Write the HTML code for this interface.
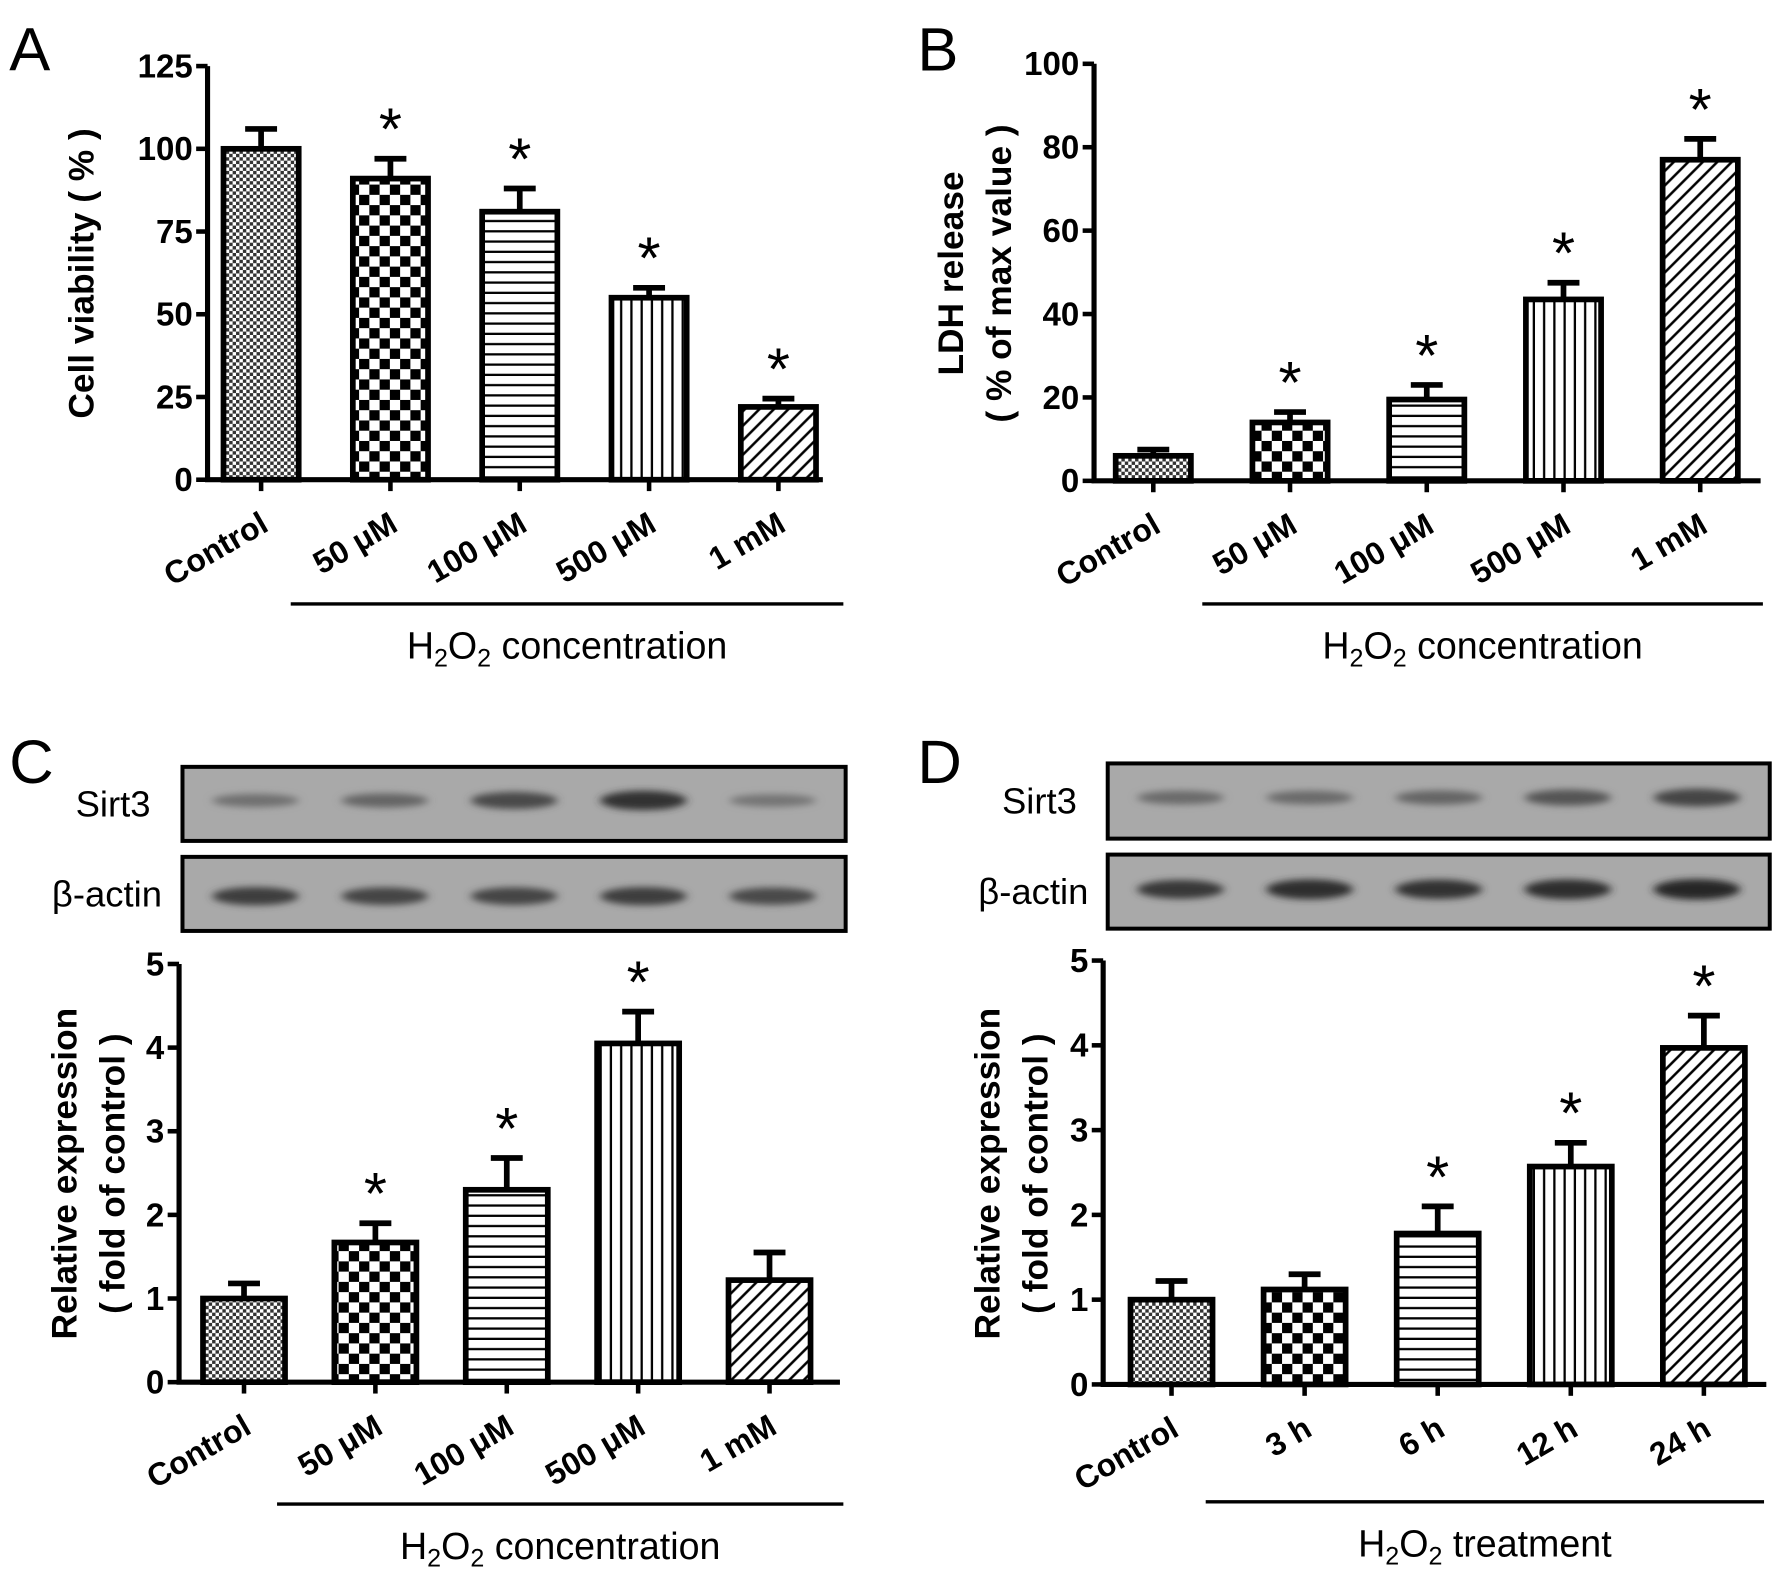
<!DOCTYPE html>
<html><head><meta charset="utf-8"><style>
html,body{margin:0;padding:0;background:#fff;}
svg{display:block;}
text{font-family:"Liberation Sans",Arial,sans-serif;}
</style></head><body>
<svg id="fig" width="1787" height="1577" viewBox="0 0 1568 1384" xmlns="http://www.w3.org/2000/svg">
<defs>
<pattern id="pFine" width="6" height="6" patternUnits="userSpaceOnUse"><rect width="6" height="6" fill="#fff"/><rect width="3" height="3" fill="#333"/><rect x="3" y="3" width="3" height="3" fill="#333"/></pattern>
<pattern id="pChk" width="18" height="18" patternUnits="userSpaceOnUse"><rect width="18" height="18" fill="#fff"/><rect width="9" height="9" fill="#000"/><rect x="9" y="9" width="9" height="9" fill="#000"/></pattern>
<pattern id="pHor" width="10" height="9" patternUnits="userSpaceOnUse"><rect width="10" height="9" fill="#fff"/><rect y="4" width="10" height="2" fill="#000"/></pattern>
<pattern id="pVer" width="9" height="10" patternUnits="userSpaceOnUse"><rect width="9" height="10" fill="#fff"/><rect x="4" width="2" height="10" fill="#000"/></pattern>
<pattern id="pDiag" width="9" height="9" patternUnits="userSpaceOnUse" patternTransform="rotate(45)"><rect width="9" height="9" fill="#fff"/><rect x="4" width="2.2" height="9" fill="#000"/></pattern>
<filter id="blur" x="-30%" y="-100%" width="160%" height="300%"><feGaussianBlur stdDeviation="4 3"/></filter>
</defs>
<g id="root"></g>
</svg>
<script>
// Panel A data
const catsConc = ["Control","50 μM","100 μM","500 μM","1 mM"];
const catsTime = ["Control","3 h","6 h","12 h","24 h"];
const aVals = [100, 91, 81, 55, 22];
const aErr = [106, 97, 88, 58, 24.5];
const aStar = [false, true, true, true, true];
const aTicks = ["0","25","50","75","100","125"];
// Panel B data
const bVals = [6, 14, 19.5, 43.5, 77];
const bErr = [7.5, 16.5, 23, 47.5, 82];
const bStar = [false, true, true, true, true];
const bTicks = ["0","20","40","60","80","100"];
// Panel C data
const cVals = [1.0, 1.67, 2.3, 4.05, 1.22];
const cErr = [1.18, 1.9, 2.68, 4.43, 1.55];
const cStar = [false, true, true, true, false];
const cTicks = ["0","1","2","3","4","5"];
const cSirt3 = [0.35, 0.45, 0.7, 0.9, 0.3];
const cActin = [0.8, 0.75, 0.75, 0.8, 0.7];
// Panel D data
const dVals = [1.0, 1.12, 1.78, 2.57, 3.97];
const dErr = [1.22, 1.3, 2.1, 2.85, 4.35];
const dStar = [false, false, true, true, true];
const dTicks = ["0","1","2","3","4","5"];
const dSirt3 = [0.4, 0.4, 0.45, 0.6, 0.75];
const dActin = [0.85, 0.95, 0.9, 0.95, 1.0];

const fills = ["url(#pFine)","url(#pChk)","url(#pHor)","url(#pVer)","url(#pDiag)"];
const NS = "http://www.w3.org/2000/svg";
const root = document.getElementById("root");
function mk(tag, attrs, parent, txt){
  const e = document.createElementNS(NS, tag);
  for (const k in attrs) e.setAttribute(k, attrs[k]);
  if (txt !== undefined) e.textContent = txt;
  (parent||root).appendChild(e);
  return e;
}

function chart(cfg){
  const g = mk("g", {});
  
  
  const yMax = parseFloat(cfg.ticks[cfg.ticks.length-1]);
  const Y = v => cfg.y0 - (v / yMax) * (cfg.y0 - cfg.yTop);
  const X = i => cfg.x0 + cfg.first + i * cfg.step;
  cfg.vals.forEach((v, i) => {
    const r = mk("rect", {x: X(i) - cfg.bw/2, y: Y(v), width: cfg.bw, height: cfg.y0 - Y(v), fill: fills[i], stroke: "#000", "stroke-width": 5}, g);
    
    
    const eb = mk("path", {d: `M${X(i)} ${Y(v)} V${Y(cfg.err[i])} M${X(i)-14} ${Y(cfg.err[i])} H${X(i)+14}`, stroke: "#000", "stroke-width": 5, fill: "none"}, g);
    
    
    if (cfg.star[i]) {
      const s = mk("text", {x: X(i), y: Y(cfg.err[i]) - 8, "text-anchor": "middle", "font-size": 52}, g, "*");
      
      
    }
    const tk = mk("line", {x1: X(i), x2: X(i), y1: cfg.y0, y2: cfg.y0 + 10, stroke: "#000", "stroke-width": 4}, g);
    
    
    const lx = X(i) + 8, ly = cfg.y0 + 44;
    const lb = mk("text", {x: lx, y: ly, "text-anchor": "end", "font-size": 28, "font-weight": "bold", transform: `rotate(-30 ${lx} ${ly})`}, g, cfg.cats[i]);
    
    
  });
  const ax = mk("path", {d: `M${cfg.x0} ${cfg.yTop} V${cfg.y0} H${cfg.xEnd}`, stroke: "#000", "stroke-width": 4.5, fill: "none"}, g);
  
  
  cfg.ticks.forEach(t => {
    const v = parseFloat(t);
    const tl = mk("line", {x1: cfg.x0 - 10, x2: cfg.x0, y1: Y(v), y2: Y(v), stroke: "#000", "stroke-width": 4}, g);
    
    
    const tt = mk("text", {x: cfg.x0 - 13, y: Y(v) + 10, "text-anchor": "end", "font-size": 29, "font-weight": "bold"}, g, t);
    
    
  });
  cfg.ytitle.forEach((line, k) => {
    const tx = cfg.ytx[k], ty = cfg.yty;
    const yt = mk("text", {x: tx, y: ty, "text-anchor": "middle", "font-size": 31, "font-weight": "bold", transform: `rotate(-90 ${tx} ${ty})`}, g, line);
    
    
  });
  const br = mk("line", {x1: cfg.brX1, x2: cfg.brX2, y1: cfg.brY, y2: cfg.brY, stroke: "#000", "stroke-width": 3}, g);
  
  
  const xt = mk("text", {x: (cfg.brX1 + cfg.brX2)/2, y: cfg.brY + 48, "text-anchor": "middle", "font-size": 33}, g);
  
  
  xt.innerHTML = 'H<tspan font-size="22" dy="7">2</tspan><tspan dy="-7">O</tspan><tspan font-size="22" dy="7">2</tspan><tspan dy="-7"> ' + cfg.xtitle + '</tspan>';
  const lt = mk("text", {x: cfg.lx, y: cfg.ly, "font-size": 54}, g, cfg.letter);
  
  
}

function blot(cfg){
  const g = mk("g", {});
  
  
  const bx = mk("rect", {x: cfg.x, y: cfg.y, width: cfg.w, height: cfg.h, fill: "#a9a9a9", stroke: "#000", "stroke-width": 3.5}, g);
  
  
  cfg.vals.forEach((v, i) => {
    const cx = cfg.x + cfg.w * (0.11 + i * 0.195);
    const shade = Math.round(150 - v * 110);
    const b = mk("ellipse", {cx: cx, cy: cfg.y + cfg.h/2 + cfg.dy, rx: 38, ry: 4 + v * 5, fill: `rgb(${shade},${shade},${shade})`, filter: "url(#blur)"}, g);
    
    
  });
  const lb = mk("text", {x: cfg.lx, y: cfg.y + cfg.h/2 + 11, "text-anchor": "end", "font-size": 32}, g, cfg.label);
  
  
}

chart({name:"panel-a", letter:"A", lx:8, ly:62, cats:catsConc, vals:aVals, err:aErr, star:aStar, ticks:aTicks,
  x0:182, y0:421, yTop:58, xEnd:722, first:47, step:113.5, bw:66, ytitle:["Cell viability ( % )"], ytx:[82], yty:240,
  brX1:255, brX2:740, brY:530, xtitle:"concentration"});
chart({name:"panel-b", letter:"B", lx:805, ly:62, cats:catsConc, vals:bVals, err:bErr, star:bStar, ticks:bTicks,
  x0:960, y0:422, yTop:56, xEnd:1545, first:52, step:120, bw:66, ytitle:["LDH release","( % of max value )"], ytx:[845,887], yty:240,
  brX1:1055, brX2:1547, brY:530, xtitle:"concentration"});
chart({name:"panel-c", letter:"C", lx:8, ly:687, cats:catsConc, vals:cVals, err:cErr, star:cStar, ticks:cTicks,
  x0:157, y0:1213, yTop:846, xEnd:737, first:57, step:115.3, bw:72, ytitle:["Relative expression","( fold of control )"], ytx:[67,109], yty:1030,
  brX1:243, brX2:740, brY:1320, xtitle:"concentration"});
chart({name:"panel-d", letter:"D", lx:805, ly:687, cats:catsTime, vals:dVals, err:dErr, star:dStar, ticks:dTicks,
  x0:968, y0:1215, yTop:843, xEnd:1550, first:60, step:116.8, bw:72, ytitle:["Relative expression","( fold of control )"], ytx:[877,919], yty:1030,
  brX1:1058, brX2:1548, brY:1318, xtitle:"treatment"});

blot({name:"blot-c-sirt3", x:160, y:673, w:582, h:65, vals:cSirt3, label:"Sirt3", lx:132, dy:-3});
blot({name:"blot-c-actin", x:160, y:752, w:582, h:65, vals:cActin, label:"β-actin", lx:142, dy:2});
blot({name:"blot-d-sirt3", x:972, y:670, w:581, h:66, vals:dSirt3, label:"Sirt3", lx:945, dy:-3});
blot({name:"blot-d-actin", x:972, y:750, w:581, h:65, vals:dActin, label:"β-actin", lx:955, dy:-2});
</script>
</body></html>
